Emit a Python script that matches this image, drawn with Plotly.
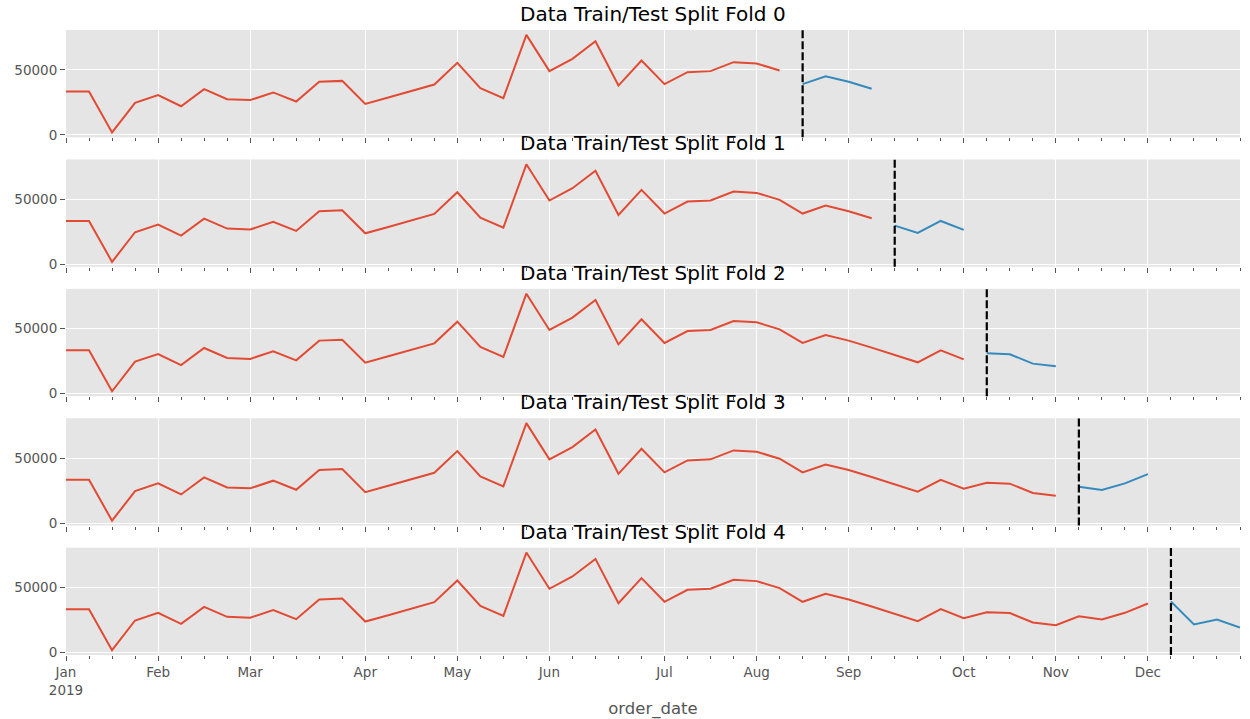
import pandas as pd
import plotly.graph_objects as go
from plotly.subplots import make_subplots

# ---- data (weekly totals) ----
weeks = [d.strftime("%Y-%m-%d") for d in pd.date_range("2019-01-06", periods=52, freq="W-SUN")]
sales = [33300, 33300, 1800, 24600, 30500, 22000, 35100, 27400, 26700, 32600,
         25600, 40800, 41500, 23800, 28700, 33600, 38700, 55400, 35900, 28200,
         76900, 49000, 58500, 72000, 37900, 57200, 39000, 48200, 49000, 55900,
         54900, 49500, 39000, 45100, 40800, 35400, 29700, 24100, 33300, 26400,
         31000, 30300, 23100, 21000, 27900, 25400, 30500, 37700, 39200, 21500,
         25400, 19200]
fold_test_start = [32, 36, 40, 44, 48]
test_size = 4
month_names = ["Jan", "Feb", "Mar", "Apr", "May", "Jun", "Jul", "Aug", "Sep", "Oct", "Nov", "Dec"]
y_ticks = [0, 50000]
y_tick_text = ["0", "50000"]

# month ticks: first weekly period that contains the 1st of the month
tick_vals, tick_text = [], []
for m, name in enumerate(month_names, start=1):
    for w in weeks:
        if pd.Timestamp(w).month == m:
            tick_vals.append(w)
            tick_text.append(name + ("<br>2019" if m == 1 else ""))
            break
tick_vals[0] = weeks[0]

RED = "#E24A33"
BLUE = "#348ABD"
BG = "#E5E5E5"
TXT = "#555555"
FONT = "DejaVu Sans"

n = len(fold_test_start)
fig = make_subplots(rows=n, cols=1, shared_xaxes=True, vertical_spacing=22 / 623)

ymin, ymax = min(sales), max(sales)
pad = 0.05 * (ymax - ymin)
yrange = [ymin - pad, ymax + pad]

for k, ts in enumerate(fold_test_start):
    r = k + 1
    fig.add_trace(go.Scatter(x=weeks[:ts], y=sales[:ts], mode="lines",
                             line=dict(color=RED, width=2), showlegend=False), row=r, col=1)
    fig.add_trace(go.Scatter(x=weeks[ts:ts + test_size], y=sales[ts:ts + test_size], mode="lines",
                             line=dict(color=BLUE, width=2), showlegend=False), row=r, col=1)
    xa = "x" if r == 1 else f"x{r}"
    ya = "y" if r == 1 else f"y{r}"
    fig.add_shape(type="line", xref=xa, yref=f"{ya} domain", x0=weeks[ts], x1=weeks[ts], y0=0, y1=1,
                  line=dict(color="black", width=2.2, dash="8px,3px"))
    fig.add_annotation(text=f"Data Train/Test Split Fold {k}", xref=f"{xa} domain", yref=f"{ya} domain",
                       x=0.5, y=1, xanchor="center", yanchor="bottom", yshift=2, showarrow=False,
                       font=dict(family=FONT, size=20, color="black"))
    fig.update_yaxes(row=r, col=1, range=yrange, tickvals=y_ticks, ticktext=y_tick_text,
                     ticks="outside", ticklen=5, automargin=False,
                     tickcolor=TXT, tickfont=dict(family=FONT, size=13.5, color=TXT),
                     showgrid=True, gridcolor="white", gridwidth=1.2, zeroline=False,
                     showline=False)
    fig.update_xaxes(row=r, col=1, type="date", range=[weeks[0], weeks[-1]],
                     tickvals=tick_vals, ticktext=tick_text, ticks="outside", ticklen=5,
                     automargin=False,
                     tickcolor=TXT, tickfont=dict(family=FONT, size=13.5, color=TXT),
                     showgrid=True, gridcolor="white", gridwidth=1.2, zeroline=False, showline=False,
                     minor=dict(ticks="outside", ticklen=3, tickcolor=TXT, dtick=7 * 86400000,
                                tick0=weeks[0], showgrid=False))

fig.update_xaxes(row=n, col=1,
                 title=dict(text="order_date", standoff=14,
                            font=dict(family=FONT, size=16.5, color=TXT)))

fig.update_layout(width=1250, height=719, margin=dict(l=66, r=10, t=30, b=64),
                  paper_bgcolor="white", plot_bgcolor=BG, font=dict(family=FONT, color=TXT),
                  showlegend=False)

fig.write_html("out.html")
